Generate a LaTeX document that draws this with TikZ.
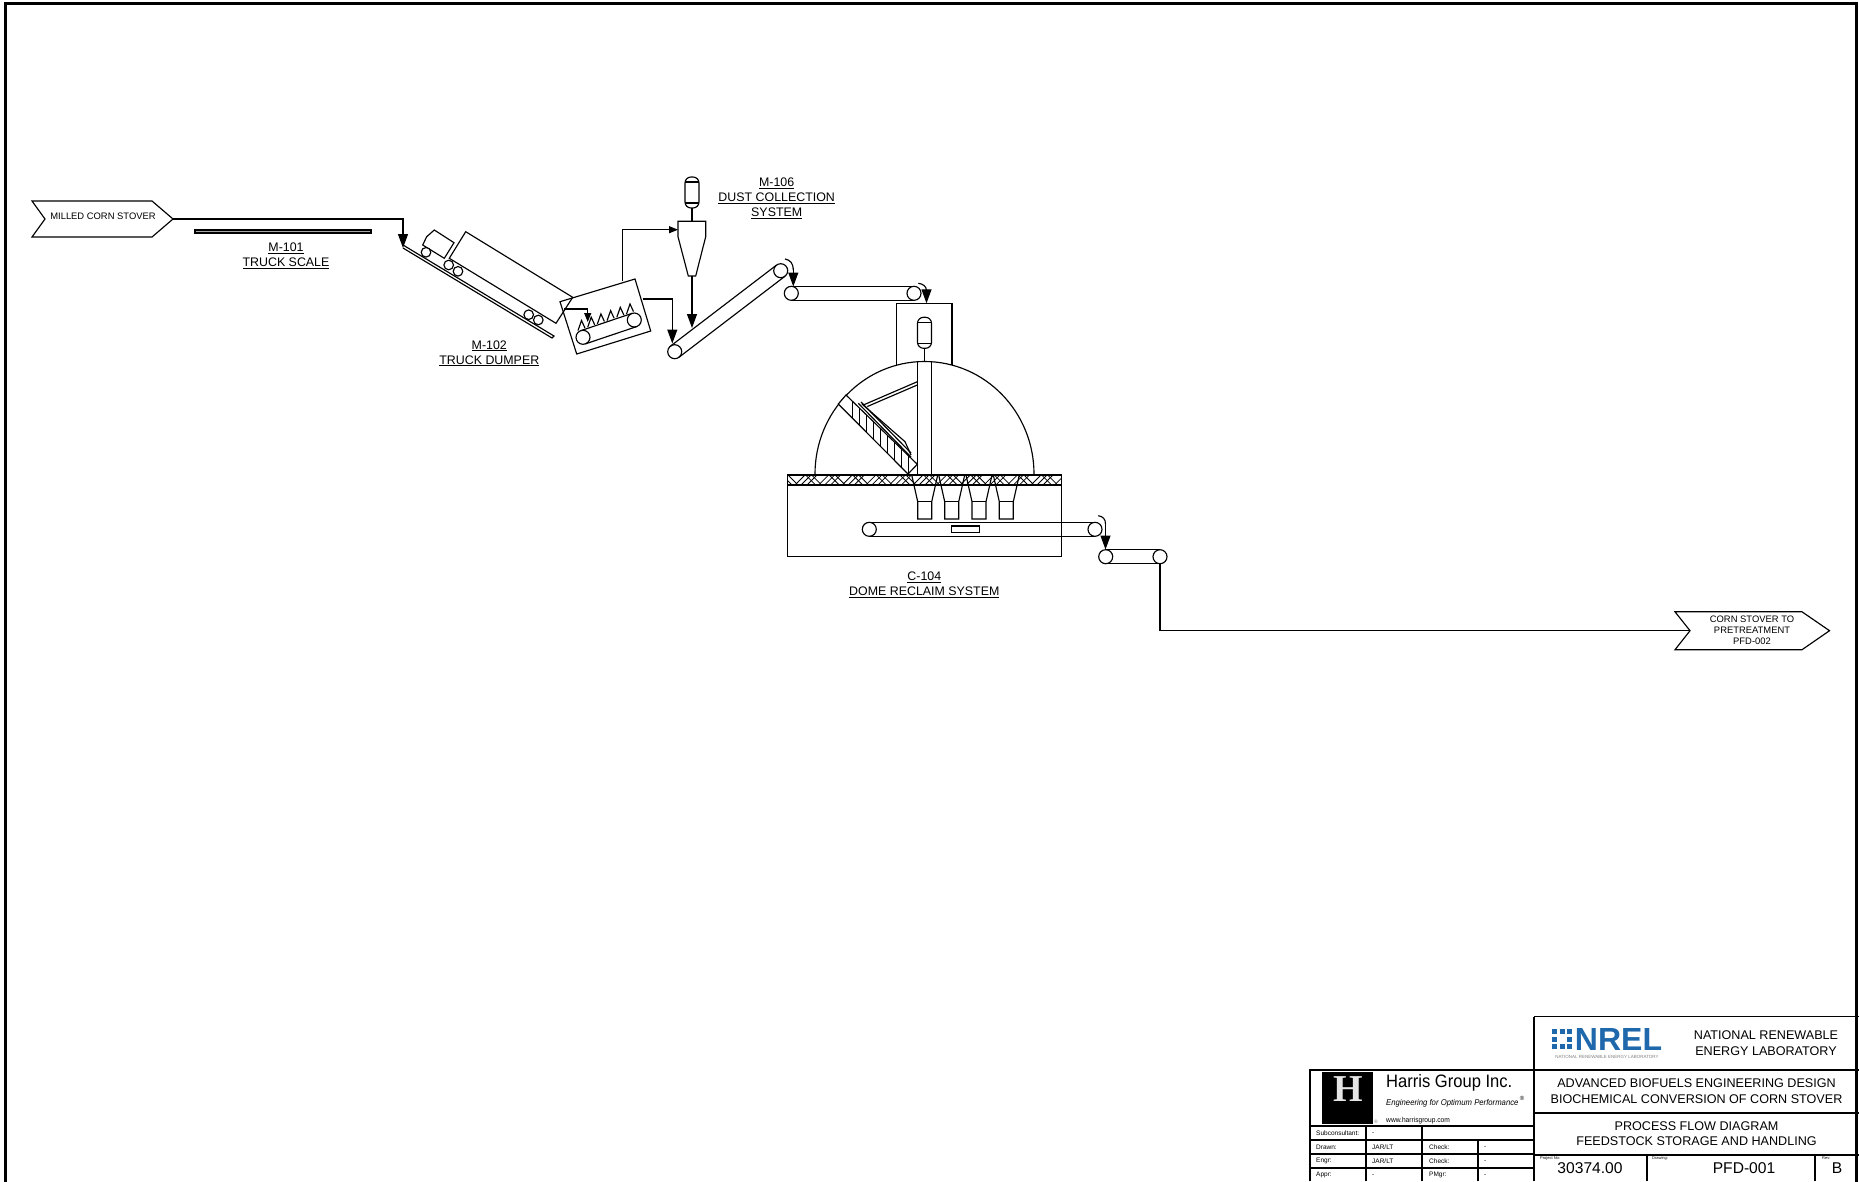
\documentclass[tikz,border=0pt]{standalone}
\usepackage{fontspec}
\setmainfont{Liberation Sans}
\newfontfamily\narrowfont[FakeStretch=0.92]{Liberation Sans}
\newfontfamily\logofont{Liberation Serif}
\usetikzlibrary{calc,arrows.meta}

\definecolor{nrelblue}{RGB}{32,104,172}

\tikzset{
  line/.style={draw=black, line width=1.15pt},
  pulley/.style={circle, draw=black, line width=1.15pt, fill=white, minimum size=14pt, inner sep=0pt},
  smallpulley/.style={pulley, minimum size=9.6pt},
  bighead/.style={-{Triangle[length=14pt,width=10pt]}},
  lilhead/.style={-{Triangle[length=9pt,width=7pt]}},
  tag/.style={align=center, font=\fontsize{12.4}{15}\selectfont},
  flag/.style={align=center, font=\fontsize{9.4}{11}\selectfont},
  cell/.style={anchor=west, inner sep=0pt, font=\fontsize{6.5}{8}\selectfont},
  tiny cell/.style={anchor=west, inner sep=0pt, font=\fontsize{4}{4}\selectfont},
  bignum/.style={font=\fontsize{15.6}{16}\selectfont},
  titleline/.style={align=center, font=\fontsize{12.6}{15.5}\selectfont},
}

% belt between two pulley nodes
\newcommand{\belt}[3]{%
  \draw[line] ($(#1)!#3pt!90:(#2)$) -- ($(#2)!#3pt!-90:(#1)$);
  \draw[line] ($(#1)!#3pt!-90:(#2)$) -- ($(#2)!#3pt!90:(#1)$);
}
% filter capsule, centre x / top y
\newcommand{\capsule}[3]{%
  \draw[line, rounded corners=6pt] (#1-7,#2) rectangle (#1+7,#2+31);
  \draw[line] (#1-7,#2+5) -- (#1+7,#2+5);
  \draw[line] (#1-7,#2+26) -- (#1+7,#2+26);
  \draw[line] (#1,#2+31) -- (#1,#3);
}

\begin{document}
\begin{tikzpicture}[x=1pt, y=-1pt]
\useasboundingbox (0,0) rectangle (1859,1181);

% sheet border
\draw[line width=3.5pt] (5.3,1190) -- (5.3,3.6) -- (1856.5,3.6) -- (1856.5,1190);

% feed flag and line
\draw[line] (32,201) -- (152,201) -- (173,219) -- (152,237) -- (32,237) -- (45,219) -- cycle;
\node[flag] (feed) at (103,216) {MILLED CORN STOVER};
\coordinate (rampin) at (403,248);
\draw[line, bighead] (173,219) -- (403,219) -- (rampin);

% truck scale
\draw[line, fill=black!35] (195,230) rectangle (371,233);
\node[tag] (scaletag) at (286,255.7) {\underline{M-101}\\\underline{TRUCK SCALE}};

% truck dumper
\draw[line] (403,245) -- (554,336) -- (552,338) -- (403,248);
\draw[line] (465.7,231.7) -- (572.7,297.3) -- (556,323.3) -- (449.3,258.3) -- cycle;
\draw[line] (434.3,230) -- (454,242.7) -- (444.3,258.3) -- (422.7,245) -- (426.7,236.7) -- cycle;
\foreach \n/\wx/\wy in {a/426/252.3, b/448.7/265, c/458/271.3, d/528.7/314.7, e/538.3/320}
  \node[smallpulley] (wheel\n) at (\wx,\wy) {};
\node[tag] (dumptag) at (489.3,353.3) {\underline{M-102}\\\underline{TRUCK DUMPER}};

% hopper conveyor
\draw[line] (635,279) -- (650.7,331) -- (576.7,354) -- (560,301.7) -- cycle;
\node[pulley] (hopa) at (583,337.3) {};
\node[pulley] (hopb) at (634.3,320) {};
\belt{hopa}{hopb}{7}
\foreach \i in {0,...,5}{
  \pgfmathsetmacro{\tx}{578+\i*9.7}
  \pgfmathsetmacro{\ty}{330.5-\i*3.3}
  \draw[line] (\tx,\ty) -- (\tx+3.5,\ty-10) -- (\tx+7,\ty-2.4);
}
\draw[line, lilhead] (564.3,309) -- (587.7,309) -- (587.7,322);

% dust collection
\capsule{692}{177}{221.3}
\draw[line] (678,221.3) -- (705.7,221.3) -- (705.7,236.7) -- (695.7,276) -- (688.3,276) -- (678,236.7) -- cycle;
\node[tag] (dusttag) at (776.7,198.7) {\underline{M-106}\\\underline{DUST COLLECTION}\\\underline{SYSTEM}};
\draw[line, lilhead] (622.7,280.7) -- (622.7,229.7) -- (678,229.7);

% incline conveyor
\node[pulley] (inca) at (674.7,351.7) {};
\node[pulley] (incb) at (780.7,270.7) {};
\belt{inca}{incb}{7}
\draw[line, bighead] (642.7,299) -- (672.3,299) -- (672.3,343.5);
\draw[line, bighead] (692,276) -- (692,328);
\draw[line] (785,259) .. controls (790,260) and (793.3,263) .. (793.3,270);
\draw[line, bighead] (793.3,268) -- (793.3,286.5);

% top conveyor
\node[pulley] (topa) at (791.3,293.3) {};
\node[pulley] (topb) at (914,293.3) {};
\belt{topa}{topb}{7}
\draw[line] (918.3,283.3) .. controls (923,284) and (926.5,286) .. (926.5,291);
\draw[line, bighead] (926.5,289) -- (926.5,303.3);

% dome
\draw[line] (896.7,365) -- (896.7,303.3) -- (952,303.3) -- (952,365);
\draw[line, fill=white] (815,474) arc[start angle=180, end angle=0, x radius=109.5pt, y radius=112.5pt];
\capsule{924.5}{317.3}{361.5}
\draw[line] (917.7,474) -- (917.7,361.7) (931.3,361.7) -- (931.3,474);

% stacker
\draw[line, fill=white] (846,395) -- (917.3,464.3) -- (908,474) -- (838.3,404) -- cycle;
\foreach \i in {1,...,9}{
  \pgfmathsetmacro{\hx}{846+\i*6.9}
  \pgfmathsetmacro{\hu}{395+0.972*(\hx-846)}
  \pgfmathsetmacro{\hl}{404+1.005*(\hx-838.3)}
  \draw[line] (\hx,\hu) -- (\hx,\hl);
}
\draw[line] (858.3,403.3) -- (911,457);
\draw[line] (861,402) -- (911,453);
\draw[line] (862,404) -- (905,441.7) -- (911,455);
\draw[line] (863.3,405) -- (917.3,381.7);
\draw[line] (867.3,406.5) -- (917.3,385);

% floor with hatch
\begin{scope}
  \clip (787.3,475) rectangle (1061.3,485);
  \foreach \i in {0,...,11}{
    \pgfmathsetmacro{\gx}{782+\i*23.6}
    \draw[line width=0.8pt] (\gx,475) -- (\gx+10,485);
    \draw[line width=0.8pt] (\gx+6,475) -- (\gx+16,485);
    \draw[line width=0.8pt] (\gx+23,475) -- (\gx+13,485);
    \draw[line width=0.8pt] (\gx+29,475) -- (\gx+19,485);
    \draw[line width=0.8pt] (\gx+35,475) -- (\gx+25,485);
  }
\end{scope}
\draw[line] (787.3,475) rectangle (1061.3,485);
\draw[line] (787.3,485) rectangle (1061.3,556.7);

% reclaim hoppers
\foreach \hx in {924.7,951.7,979,1006.3}{
  \draw[line] (\hx-13,475) -- (\hx-7,501.7) -- (\hx-7,519) -- (\hx+7,519) -- (\hx+7,501.7) -- (\hx+13,475);
  \draw[line] (\hx-7,501.7) -- (\hx+7,501.7);
}

% reclaim conveyor
\node[pulley] (reca) at (869.3,529.3) {};
\node[pulley] (recb) at (1095,529.3) {};
\belt{reca}{recb}{7}
\draw[line] (951.7,526) rectangle (979.3,532.7);
\draw[line] (1098.3,515.7) .. controls (1103,516.5) and (1105.5,519) .. (1105.5,524);
\draw[line, bighead] (1105.5,522) -- (1105.5,549.5);
\node[tag] (dometag) at (924.3,584.7) {\underline{C-104}\\\underline{DOME RECLAIM SYSTEM}};

% discharge conveyor and flag
\node[pulley] (outa) at (1105.7,556.7) {};
\node[pulley] (outb) at (1160,556.7) {};
\belt{outa}{outb}{7}
\draw[line] (outb.south) -- (1160,630.7) -- (1690,630.7);
\draw[line] (1675,611.8) -- (1802,611.8) -- (1829.5,630.7) -- (1802,649.7) -- (1675,649.7) -- (1690,630.7) -- cycle;
\node[flag] (prodflag) at (1752,630) {CORN STOVER TO\\PRETREATMENT\\PFD-002};

% title block, right side
\draw[line width=1.2pt] (1534,1016.5) -- (1859,1016.5) (1534,1016.5) -- (1534,1181);
\draw[line width=1.2pt] (1534,1070) -- (1859,1070);
\draw[line width=1.2pt] (1534,1113) -- (1859,1113);
\draw[line width=1.2pt] (1534,1155) -- (1859,1155);
\draw[line width=1.2pt] (1647,1155) -- (1647,1181);
\draw[line width=1.2pt] (1815,1155) -- (1815,1181);
\node[font=\bfseries\fontsize{32}{32}\selectfont, text=nrelblue, inner sep=0pt] (nrel) at (1618.5,1039) {NREL};
\node[font=\fontsize{4.5}{4.5}\selectfont, text=gray, inner sep=0pt] (nrelsub) at (1607,1056.5) {NATIONAL RENEWABLE ENERGY LABORATORY};
\foreach \dx/\dy in {0/0,1/0,2/0,0/1,2/1,0/2,1/2,2/2}
  \fill[nrelblue] (1552+\dx*7.7,1029+\dy*7.7) rectangle ++(5,5);
\node[titleline] (lab) at (1766,1043) {NATIONAL RENEWABLE\\ENERGY LABORATORY};
\node[titleline] (proj) at (1696.5,1091) {ADVANCED BIOFUELS ENGINEERING DESIGN\\BIOCHEMICAL CONVERSION OF CORN STOVER};
\node[titleline] (sheet) at (1696.5,1133.5) {PROCESS FLOW DIAGRAM\\FEEDSTOCK STORAGE AND HANDLING};
\node[tiny cell] (pnl) at (1540,1158) {Project No:};
\node[bignum] (pn) at (1590,1168.5) {30374.00};
\node[tiny cell] (dwl) at (1652,1158) {Drawing:};
\node[bignum] (dw) at (1744,1168.5) {PFD-001};
\node[tiny cell] (rvl) at (1822,1158) {Rev:};
\node[bignum] (rv) at (1837,1168.5) {B};

% title block, left side
\draw[line width=1.2pt] (1310,1181) -- (1310,1070) -- (1534,1070);
\fill[black] (1322,1072) rectangle (1373,1124);
\node[font=\logofont\bfseries\fontsize{38}{38}\selectfont, text=black!10, inner sep=0pt] (hlogo) at (1348,1089.5) {H};
\node[inner sep=0pt, font=\fontsize{5}{5}\selectfont, text=gray] (hgs) at (1376,1121.5) {®};
\node[anchor=west, inner sep=0pt, font=\narrowfont\fontsize{18}{18}\selectfont] (hg) at (1386,1083) {Harris Group Inc.};
\node[anchor=west, inner sep=0pt, font=\narrowfont\itshape\fontsize{8.4}{10}\selectfont] (hgb) at (1386,1103) {Engineering for Optimum Performance};
\node[inner sep=0pt, font=\fontsize{6}{6}\selectfont] (hgr) at (1522,1098) {®};
\node[anchor=west, inner sep=0pt, font=\narrowfont\fontsize{7.2}{8}\selectfont] (hgw) at (1386,1121) {www.harrisgroup.com};
\draw[line] (1310,1126) -- (1534,1126);
\draw[line] (1310,1140) -- (1534,1140);
\draw[line] (1310,1154) -- (1534,1154);
\draw[line] (1310,1168) -- (1534,1168);
\draw[line] (1366,1126) -- (1366,1181);
\draw[line] (1422,1126) -- (1422,1181);
\draw[line] (1478,1140) -- (1478,1181);
\node[cell] (c1) at (1316,1133) {Subconsultant:};
\node[cell] (c2) at (1372,1133) {-};
\node[cell] (c3) at (1316,1147) {Drawn:};
\node[cell] (c4) at (1372,1147) {JAR/LT};
\node[cell] (c5) at (1429,1147) {Check:};
\node[cell] (c6) at (1484,1147) {-};
\node[cell] (c7) at (1316,1161) {Engr:};
\node[cell] (c8) at (1372,1161) {JAR/LT};
\node[cell] (c9) at (1429,1161) {Check:};
\node[cell] (c10) at (1484,1161) {-};
\node[cell] (c11) at (1316,1175) {Appr:};
\node[cell] (c12) at (1372,1175) {-};
\node[cell] (c13) at (1429,1175) {PMgr:};
\node[cell] (c14) at (1484,1175) {-};

\end{tikzpicture}
\end{document}
